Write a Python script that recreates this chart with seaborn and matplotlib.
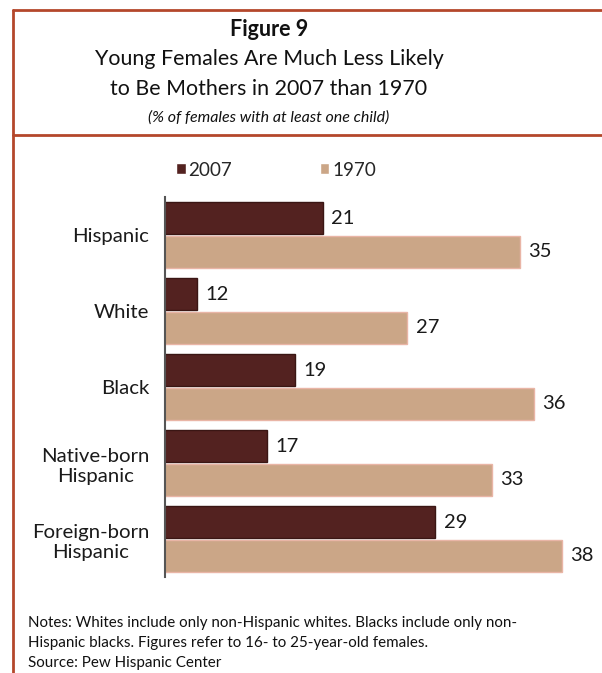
import pandas as pd
import matplotlib
matplotlib.use('Agg')
import matplotlib.pyplot as plt
import seaborn as sns
from matplotlib.lines import Line2D

# --- data ---
groups = ['Hispanic', 'White', 'Black', 'Native-born\nHispanic', 'Foreign-born\nHispanic']
years = ['2007', '1970']
share_2007 = [21, 12, 19, 17, 29]
share_1970 = [35, 27, 36, 33, 38]

df = pd.DataFrame({
    'group': groups * 2,
    'year': ['2007'] * len(groups) + ['1970'] * len(groups),
    'share': share_2007 + share_1970,
})

colors = {'2007': '#532220', '1970': '#cba687'}
edges = {'2007': '#3a1614', '1970': '#e9b5a6'}
frame_color = '#b4472b'
font = 'Lato'

sns.set_theme(style='white')
plt.rcParams['font.family'] = [font, 'DejaVu Sans']

fig = plt.figure(figsize=(6.02, 6.73), dpi=100)
ax = fig.add_axes([0.2746, 0.1426, 0.7054, 0.5647])

sns.barplot(data=df, y='group', x='share', hue='year', hue_order=years,
            palette=colors, saturation=1, orient='h', width=0.88, gap=0.05, ax=ax,
            legend=True, errorbar=None)

for cont, yr in zip(ax.containers, years):
    for bar in cont:
        bar.set_edgecolor(edges[yr])
        bar.set_linewidth(1.0)
    ax.bar_label(cont, labels=[str(int(v)) for v in cont.datavalues],
                 padding=6, fontsize=14.5, color='#1a1a1a')

# truncated axis like the original
ax.set_xlim(9.76, 40)
ax.set_ylim(4.5, -0.5)
ax.set_xlabel('')
ax.set_ylabel('')
ax.set_xticks([])
ax.tick_params(axis='y', length=0, pad=11.5, labelsize=14.7, labelcolor='#1a1a1a')
for lab in ax.get_yticklabels():
    lab.set_multialignment('center')
    lab.set_linespacing(1.25)
sns.despine(ax=ax, top=True, right=True, bottom=True)
ax.spines['left'].set_color('#555555')
ax.spines['left'].set_linewidth(1.5)

# legend
handles, labels = ax.get_legend_handles_labels()
ax.legend_.remove()
fig.legend(handles, labels, loc='center', bbox_to_anchor=(276 / 602, 1 - 170 / 673),
           ncol=2, frameon=False, fontsize=13.6, handlelength=0.5, handleheight=0.5,
           handletextpad=0.15, columnspacing=4.65)

# titles
cx = 269 / 602
fig.text(cx, 1 - 29 / 673, 'Figure 9', ha='center', va='center',
         fontsize=15.5, fontweight='bold', color='#111111')
fig.text(cx, 1 - 59 / 673, 'Young Females Are Much Less Likely', ha='center', va='center',
         fontsize=15.4, color='#111111')
fig.text(cx, 1 - 89 / 673, 'to Be Mothers in 2007 than 1970', ha='center', va='center',
         fontsize=15.4, color='#111111')
fig.text(cx, 1 - 118 / 673, '(% of females with at least one child)', ha='center', va='center',
         fontsize=11.5, style='italic', color='#111111')

# notes
fig.text(28 / 602, 1 - 623 / 673,
         'Notes: Whites include only non-Hispanic whites. Blacks include only non-',
         ha='left', va='center', fontsize=10.9, color='#111111')
fig.text(28 / 602, 1 - 643 / 673,
         'Hispanic blacks. Figures refer to 16- to 25-year-old females.',
         ha='left', va='center', fontsize=10.9, color='#111111')
fig.text(28 / 602, 1 - 663 / 673, 'Source: Pew Hispanic Center',
         ha='left', va='center', fontsize=10.9, color='#111111')

# frame lines
fig.add_artist(Line2D([13 / 602, 1], [1 - 10 / 673] * 2, color=frame_color, lw=2))
fig.add_artist(Line2D([13 / 602, 1], [1 - 135 / 673] * 2, color=frame_color, lw=2))
fig.add_artist(Line2D([13 / 602] * 2, [0, 1 - 10 / 673], color=frame_color, lw=2))

fig.savefig('out.png', dpi=100)
